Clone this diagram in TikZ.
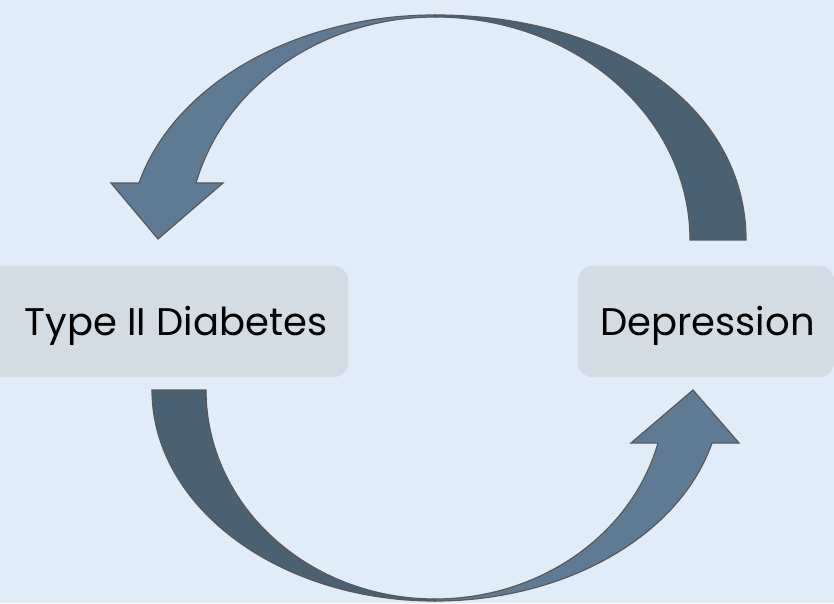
\documentclass[tikz,border=0pt]{standalone}
\usepackage{fontspec}
\setmainfont{Poppins}
\definecolor{bgblue}{HTML}{E0ECF7}
\definecolor{boxgray}{HTML}{D3DBE3}
\definecolor{arrowdark}{HTML}{4A6073}
\definecolor{arrowlight}{HTML}{5F7B94}
\definecolor{edgegray}{HTML}{5A5A5A}
\tikzset{
  termbox/.style={fill=boxgray, rounded corners=14pt, minimum height=111pt, inner sep=0pt},
  termtext/.style={anchor=base, inner sep=0pt, text=black, font=\fontsize{38.5}{44}\selectfont},
  bandpart/.style={draw=edgegray, line width=1.2pt, line join=miter},
}
\begin{document}
\begin{tikzpicture}[x=1pt,y=1pt]
  \fill[bgblue] (0,0) rectangle (834,603);
  \useasboundingbox (0,0) rectangle (834,603);

  % the two conditions
  \node[termbox, minimum width=362pt] (diab) at (167,281.5) {};
  \node[termtext] (diabtext) at (176,268) {Type II Diabetes};
  \node[termbox, minimum width=256pt] (dep) at (706,281.5) {};
  \node[termtext] (deptext) at (707.5,268) {Depression};

  % upper cycle: tail over Depression, head down onto Type II Diabetes
  \filldraw[bandpart, fill=arrowdark]
    (746,363) .. controls (746,494) and (615,588) .. (435,588)
    -- (435,586) arc[start angle=90, end angle=0, x radius=255, y radius=223]
    -- cycle;
  \filldraw[bandpart, fill=arrowlight]
    (435,588) arc[start angle=90, end angle=165.33, x radius=306, y radius=225]
    -- (111,420) -- (158,364) -- (223,420) -- (196,420)
    arc[start angle=165.19, end angle=90, x radius=247.2, y radius=223]
    -- cycle;

  % lower cycle: tail under Type II Diabetes, head up onto Depression
  \filldraw[bandpart, fill=arrowdark]
    (152,213) arc[start angle=180, end angle=270, x radius=283, y radius=211]
    -- (435,4) arc[start angle=270, end angle=180, x radius=229, y radius=209]
    -- cycle;
  \filldraw[bandpart, fill=arrowlight]
    (435,2) arc[start angle=270, end angle=345.45, x radius=286.2, y radius=211]
    -- (739,160) -- (693,213) -- (631,160) -- (658,160)
    arc[start angle=345.31, end angle=270, x radius=230.5, y radius=209]
    -- cycle;
\end{tikzpicture}
\end{document}
